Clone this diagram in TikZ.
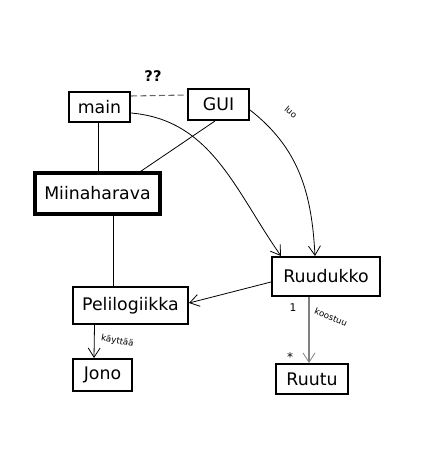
\documentclass[tikz,border=0pt]{standalone}
\usepackage{fontspec}
\setmainfont{DejaVu Sans}
\usetikzlibrary{arrows.meta,calc}

\begin{document}
\begin{tikzpicture}[
	x=0.75pt,y=-0.75pt,
	class/.style={
		rectangle,
		draw=black,
		line width=1.5pt,
		fill=white,
		align=center,
		inner sep=0pt,
		font=\fontsize{13}{15}\selectfont
	},
	mainclass/.style={
		class,
		line width=2.4pt
	},
	link/.style={black,line width=0.6pt},
	uses/.style={link,-{Straight Barb[length=7pt,width=9pt,line width=0.6pt]}},
	label/.style={font=\fontsize{6.5}{7}\selectfont,inner sep=1pt}
]

\useasboundingbox (0,0) rectangle (423,459);

% Luokat
\node[class,minimum width=45.75pt,minimum height=22.5pt] (main) at (99.5,107) {main};
\node[class,minimum width=45.75pt,minimum height=23.25pt] (gui) at (218.5,104.5) {GUI};
\node[mainclass,minimum width=93.75pt,minimum height=30.75pt] (miina) at (97.5,193.5) {Miinaharava};
\node[class,minimum width=86.25pt,minimum height=27.75pt] (peli) at (130.5,305.5) {Pelilogiikka};
\node[class,minimum width=44.25pt,minimum height=24pt] (jono) at (102.5,375) {Jono};
\node[class,minimum width=81pt,minimum height=29.25pt] (ruud) at (326,276.5) {Ruudukko};
\node[class,minimum width=54pt,minimum height=22.5pt] (ruutu) at (312,379) {Ruutu};

% main ja GUI
\draw[black!60,dash pattern=on 4.5pt off 2.5pt,line width=0.8pt] ($(main.north east)+(0,5)$) -- ($(gui.north west)+(0,7)$);
\node[font=\fontsize{11}{13}\selectfont\bfseries] (kysym) at (153,76) {??};

% Yhteydet Miinaharavaan
\draw[link] ($(main.south)+(-1.5,0)$) -- ($(miina.north)+(0.5,0)$);
\draw[link] ($(gui.south)+(-3.5,0)$) -- ($(miina.north east)+(-21,0)$);
\draw[link] ($(miina.south)+(15.5,0)$) -- ($(peli.north)+(-17.5,0)$);

% Ruudukon luonti
\draw[uses] ($(main.east)+(0,6)$) to[out=-5,in=125] ($(ruud.north west)+(10,0)$);
\draw[uses] ($(gui.east)+(0,5.5)$) to[out=-38,in=93] ($(ruud.north)+(-11,0)$);
\node[label,rotate=-40] (luo) at (291,112) {luo};

% Pelilogiikka
\draw[uses] ($(ruud.west)+(0,5.5)$) -- ($(peli.east)+(0,-2.5)$);
\draw[uses] ($(peli.south)+(-36,0)$) -- node[label,right=4pt,rotate=-10,pos=0.4] (kaytt) {käyttää} ($(jono.north)+(-8.5,0)$);

% Ruudukko koostuu ruuduista
\draw[uses,gray,line width=1.1pt] ($(ruud.south)+(-17,0)$) -- ($(ruutu.north)+(-3,0)$);
\node[font=\fontsize{8}{9}\selectfont] (yksi) at (293,308) {1};
\node[font=\fontsize{9}{10}\selectfont] (monta) at (290,357) {*};
\node[label,rotate=-22] (koost) at (331,317) {koostuu};

\end{tikzpicture}
\end{document}
